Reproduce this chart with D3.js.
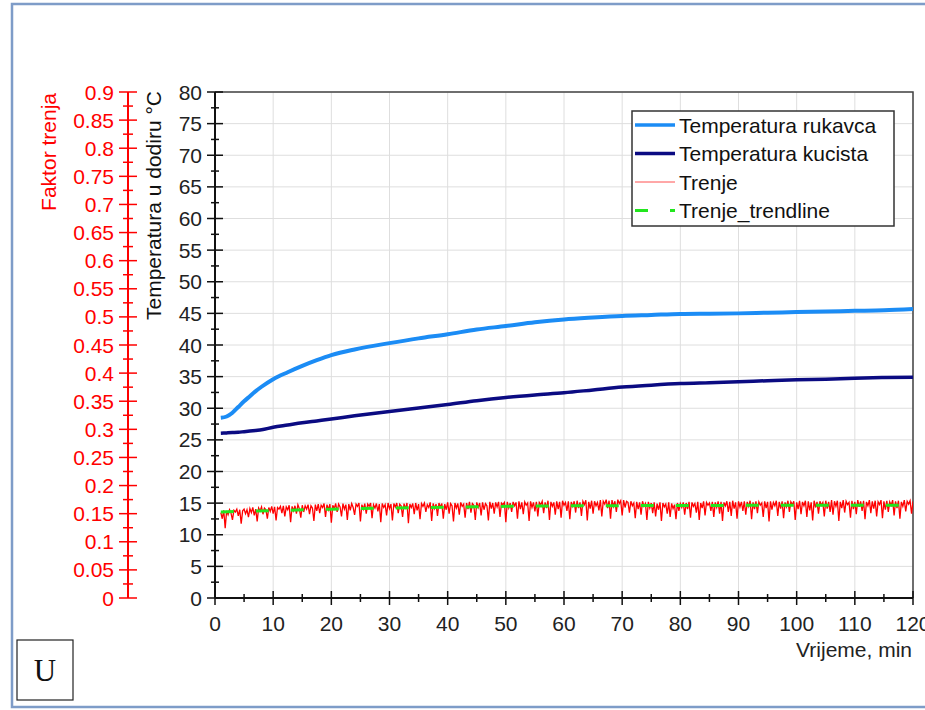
<!DOCTYPE html>
<html lang="hr">
<head>
<meta charset="utf-8">
<title>Temperatura i trenje</title>
<style>
  body { margin: 0; background: #fff; }
  svg text { font-family: "Liberation Sans", Arial, sans-serif; }
</style>
</head>
<body>
<svg id="chart" width="925" height="710"></svg>
<script src="https://d3js.org/d3.v7.min.js"></script>
<script>
// vremena za temperature (min)
var tempTime = [1, 2, 3, 4, 5, 6, 7, 8, 10, 12.5, 15, 17.5, 20, 24, 30, 35, 40, 45, 50, 55, 60, 65, 70, 75, 80, 85, 90, 95, 100, 105, 110, 115, 120];
// Temperatura rukavca (°C)
var tempRukavca = [28.5, 28.7, 29.3, 30.2, 31.1, 31.9, 32.7, 33.4, 34.6, 35.7, 36.7, 37.6, 38.4, 39.3, 40.3, 41.05, 41.7, 42.45, 43.0, 43.6, 44.05, 44.35, 44.6, 44.75, 44.9, 44.95, 45.0, 45.1, 45.2, 45.3, 45.4, 45.5, 45.7];
// Temperatura kucista (°C)
var tempKucista = [26.05, 26.1, 26.15, 26.2, 26.3, 26.4, 26.5, 26.6, 27.0, 27.35, 27.7, 28.0, 28.3, 28.8, 29.5, 30.05, 30.6, 31.2, 31.7, 32.1, 32.45, 32.9, 33.35, 33.65, 33.9, 34.05, 34.2, 34.35, 34.5, 34.6, 34.75, 34.85, 34.9];

// Trenje: faktor trenja, svakih 0.25 min od 1. minute
var trenjeStart = 1, trenjeStep = 0.25;
var trenje = [
  .152,.141,.156,.124,.155,.148,.157,.151,.139,.156,.153,.158,.146,.157,.132,.155,.158,.150,.157,.144,
  .159,.152,.161,.147,.158,.136,.160,.155,.162,.149,.160,.157,.141,.161,.154,.163,.150,.162,.138,.161,
  .158,.163,.151,.164,.145,.162,.157,.165,.135,.163,.155,.164,.150,.166,.159,.143,.165,.153,.164,.158,
  .166,.149,.164,.160,.137,.166,.155,.167,.151,.165,.161,.168,.144,.166,.157,.167,.134,.165,.159,.168,
  .153,.167,.162,.145,.168,.158,.166,.139,.167,.156,.168,.161,.148,.167,.163,.169,.136,.166,.158,.168,
  .150,.167,.163,.169,.142,.166,.160,.168,.154,.167,.135,.168,.161,.166,.147,.169,.159,.167,.138,.168,
  .162,.169,.151,.167,.164,.144,.168,.158,.169,.133,.167,.161,.168,.149,.169,.156,.167,.140,.168,.163,
  .169,.153,.166,.161,.170,.137,.168,.159,.167,.146,.169,.162,.168,.141,.167,.157,.170,.150,.168,.164,
  .136,.169,.160,.168,.148,.170,.163,.167,.143,.169,.158,.171,.152,.168,.165,.139,.170,.161,.169,.147,
  .170,.157,.168,.164,.138,.171,.159,.169,.150,.170,.162,.171,.144,.169,.166,.170,.135,.171,.160,.169,
  .153,.171,.164,.170,.141,.172,.158,.170,.149,.171,.165,.169,.137,.172,.161,.170,.154,.171,.145,.170,
  .166,.172,.151,.170,.160,.173,.139,.171,.163,.170,.148,.172,.158,.171,.143,.173,.165,.170,.155,.172,
  .140,.171,.163,.172,.152,.173,.160,.170,.146,.172,.166,.174,.138,.171,.159,.173,.150,.172,.164,.170,
  .156,.174,.145,.172,.167,.175,.160,.173,.141,.174,.163,.172,.153,.175,.168,.173,.147,.174,.161,.172,
  .170,.152,.172,.164,.169,.142,.171,.158,.170,.148,.172,.163,.168,.139,.171,.160,.169,.151,.170,.145,
  .168,.157,.170,.137,.169,.162,.167,.150,.170,.144,.168,.159,.166,.140,.169,.155,.168,.161,.170,.148,
  .169,.158,.171,.143,.170,.163,.168,.152,.171,.139,.169,.160,.172,.147,.170,.165,.169,.155,.171,.144,
  .170,.161,.172,.150,.171,.137,.170,.164,.172,.153,.171,.146,.173,.159,.170,.141,.172,.162,.171,.155,
  .172,.148,.171,.163,.173,.140,.170,.158,.172,.151,.171,.165,.169,.144,.172,.160,.171,.136,.172,.157,
  .170,.164,.173,.146,.171,.159,.172,.142,.170,.162,.173,.153,.171,.166,.172,.139,.170,.158,.173,.149,
  .171,.164,.173,.144,.172,.156,.170,.138,.173,.161,.171,.150,.172,.165,.170,.145,.173,.159,.171,.153,
  .174,.148,.172,.163,.173,.137,.171,.160,.174,.152,.172,.166,.170,.143,.173,.158,.171,.149,.174,.162,
  .172,.155,.173,.140,.171,.164,.174,.151,.172,.159,.173,.145,.171,.166,.174,.142,.172,.157,.173,.153,
  .171,.165,.174,.147,.172,.160,.173,.141,.171,.163,.174,.154,.172,.167,.173,.150,.172
];

// Trenje_trendline
var trendTime = [1, 10, 20, 30, 40, 50, 60, 80, 100, 120];
var trendValue = [0.153, 0.1555, 0.158, 0.160, 0.1615, 0.163, 0.164, 0.1645, 0.165, 0.165];

// oznake osi
var xTicks = d3.range(0, 121, 10);
var xMinor = d3.range(5, 120, 10);
var tTicks = d3.range(0, 81, 5);
var tMinor = d3.range(2.5, 80, 5);
var fTicks = [0, 0.05, 0.1, 0.15, 0.2, 0.25, 0.3, 0.35, 0.4, 0.45, 0.5, 0.55, 0.6, 0.65, 0.7, 0.75, 0.8, 0.85, 0.9];
var fMinor = d3.range(0.025, 0.9, 0.05);

var legendItems = [
  {name: 'Temperatura rukavca', color: '#1b8cf5', width: 3.5, dash: null},
  {name: 'Temperatura kucista', color: '#0b0b82', width: 3.5, dash: null},
  {name: 'Trenje', color: '#ff5050', width: 1, dash: null},
  {name: 'Trenje_trendline', color: '#22e61e', width: 3, dash: '13,22'}
];

var svg = d3.select('#chart');
var pLeft = 215, pRight = 913, pTop = 92, pBottom = 598;

var x = d3.scaleLinear().domain([0, 120]).range([pLeft, pRight]);
var yT = d3.scaleLinear().domain([0, 80]).range([pBottom, pTop]);
var yF = d3.scaleLinear().domain([0, 0.9]).range([pBottom, pTop]);

// vanjski okvir
svg.append('rect')
  .attr('x', 12).attr('y', 4).attr('width', 930).attr('height', 703)
  .attr('fill', 'none').attr('stroke', '#7e9cc8').attr('stroke-width', 2.5);

// mreza
svg.append('g').selectAll('line').data(tTicks.slice(1)).join('line')
  .attr('x1', pLeft).attr('x2', pRight)
  .attr('y1', d => yT(d)).attr('y2', d => yT(d))
  .attr('stroke', '#dedede').attr('stroke-width', 1);
svg.append('g').selectAll('line').data(xTicks.slice(1)).join('line')
  .attr('x1', d => x(d)).attr('x2', d => x(d))
  .attr('y1', pTop).attr('y2', pBottom)
  .attr('stroke', '#dedede').attr('stroke-width', 1);

// okvir grafa (gore i desno)
svg.append('path')
  .attr('d', 'M' + pLeft + ',' + pTop + 'H' + pRight + 'V' + pBottom)
  .attr('fill', 'none').attr('stroke', '#444').attr('stroke-width', 1.5);

// linije
svg.append('defs').append('clipPath').attr('id', 'clip')
  .append('rect').attr('x', pLeft).attr('y', pTop).attr('width', pRight - pLeft).attr('height', pBottom - pTop);

var plot = svg.append('g').attr('clip-path', 'url(#clip)');

var trenjeLine = d3.line()
  .x((d, i) => x(trenjeStart + i * trenjeStep))
  .y(d => yF(d));
plot.append('path').datum(trenje)
  .attr('d', trenjeLine)
  .attr('fill', 'none').attr('stroke', '#ff0000').attr('stroke-width', 1.3);

var trendLine = d3.line()
  .x((d, i) => x(trendTime[i]))
  .y(d => yF(d))
  .curve(d3.curveMonotoneX);
plot.append('path').datum(trendValue)
  .attr('d', trendLine)
  .attr('fill', 'none').attr('stroke', '#22e61e').attr('stroke-width', 3)
  .attr('stroke-dasharray', '13,22');

var tempLine = d3.line()
  .x((d, i) => x(tempTime[i]))
  .y(d => yT(d))
  .curve(d3.curveMonotoneX);
plot.append('path').datum(tempKucista)
  .attr('d', tempLine)
  .attr('fill', 'none').attr('stroke', '#0b0b82').attr('stroke-width', 3.5);
plot.append('path').datum(tempRukavca)
  .attr('d', tempLine)
  .attr('fill', 'none').attr('stroke', '#1b8cf5').attr('stroke-width', 4);

// os temperature
var axT = svg.append('g');
axT.append('line').attr('x1', pLeft).attr('x2', pLeft).attr('y1', pTop).attr('y2', pBottom)
  .attr('stroke', '#111').attr('stroke-width', 2);
axT.selectAll('.maj').data(tTicks).join('line').attr('class', 'maj')
  .attr('x1', pLeft - 8).attr('x2', pLeft + 8).attr('y1', d => yT(d)).attr('y2', d => yT(d))
  .attr('stroke', '#111').attr('stroke-width', 1.5);
axT.selectAll('.min').data(tMinor).join('line').attr('class', 'min')
  .attr('x1', pLeft - 4).attr('x2', pLeft + 4).attr('y1', d => yT(d)).attr('y2', d => yT(d))
  .attr('stroke', '#111').attr('stroke-width', 1.5);
axT.selectAll('text').data(tTicks).join('text')
  .attr('x', pLeft - 13).attr('y', d => yT(d)).attr('dy', '0.36em')
  .attr('text-anchor', 'end').attr('font-size', 21).attr('fill', '#222')
  .text(d => d);

// os trenja
var fx = 128;
var axF = svg.append('g');
axF.append('line').attr('x1', fx).attr('x2', fx).attr('y1', pTop).attr('y2', pBottom)
  .attr('stroke', '#ff0000').attr('stroke-width', 2);
axF.selectAll('.maj').data(fTicks).join('line').attr('class', 'maj')
  .attr('x1', fx - 9).attr('x2', fx + 9).attr('y1', d => yF(d)).attr('y2', d => yF(d))
  .attr('stroke', '#ff0000').attr('stroke-width', 1.5);
axF.selectAll('.min').data(fMinor).join('line').attr('class', 'min')
  .attr('x1', fx - 5).attr('x2', fx + 5).attr('y1', d => yF(d)).attr('y2', d => yF(d))
  .attr('stroke', '#ff0000').attr('stroke-width', 1.5);
axF.selectAll('text').data(fTicks).join('text')
  .attr('x', fx - 14).attr('y', d => yF(d)).attr('dy', '0.36em')
  .attr('text-anchor', 'end').attr('font-size', 21).attr('fill', '#ff0000')
  .text(d => d3.format('~g')(d));

// os vremena
var axX = svg.append('g');
axX.append('line').attr('x1', pLeft).attr('x2', pRight).attr('y1', pBottom).attr('y2', pBottom)
  .attr('stroke', '#111').attr('stroke-width', 2);
axX.selectAll('.maj').data(xTicks).join('line').attr('class', 'maj')
  .attr('x1', d => x(d)).attr('x2', d => x(d)).attr('y1', pBottom - 7).attr('y2', pBottom + 7)
  .attr('stroke', '#111').attr('stroke-width', 1.5);
axX.selectAll('.min').data(xMinor).join('line').attr('class', 'min')
  .attr('x1', d => x(d)).attr('x2', d => x(d)).attr('y1', pBottom - 4).attr('y2', pBottom + 4)
  .attr('stroke', '#111').attr('stroke-width', 1.5);
axX.selectAll('text').data(xTicks).join('text')
  .attr('x', d => x(d)).attr('y', pBottom + 33)
  .attr('text-anchor', 'middle').attr('font-size', 21).attr('fill', '#222')
  .text(d => d);

// naslovi osi
svg.append('text').attr('x', 912).attr('y', 657)
  .attr('text-anchor', 'end').attr('font-size', 21).attr('fill', '#222')
  .text('Vrijeme, min');
svg.append('text').attr('transform', 'translate(161,91) rotate(-90)')
  .attr('text-anchor', 'end').attr('font-size', 21).attr('fill', '#111')
  .text('Temperatura u dodiru °C');
svg.append('text').attr('transform', 'translate(56,93) rotate(-90)')
  .attr('text-anchor', 'end').attr('font-size', 21).attr('fill', '#ff0000')
  .text('Faktor trenja');

// legenda
var lg = svg.append('g').attr('transform', 'translate(632,111)');
lg.append('rect').attr('width', 262).attr('height', 115)
  .attr('fill', '#fff').attr('stroke', '#333').attr('stroke-width', 1.5);
var li = lg.selectAll('.item').data(legendItems).join('g').attr('class', 'item')
  .attr('transform', (d, i) => 'translate(0,' + (14 + i * 28.5) + ')');
li.append('line').attr('x1', 3).attr('x2', 43).attr('y1', 0).attr('y2', 0)
  .attr('stroke', d => d.color).attr('stroke-width', d => d.width)
  .attr('stroke-dasharray', d => d.dash);
li.append('text').attr('x', 47).attr('y', 0).attr('dy', '0.36em')
  .attr('font-size', 21).attr('fill', '#111').text(d => d.name);

// oznaka U
svg.append('rect').attr('x', 17).attr('y', 640).attr('width', 56).attr('height', 60)
  .attr('fill', 'none').attr('stroke', '#222').attr('stroke-width', 1.2);
svg.append('text').attr('x', 45).attr('y', 681)
  .attr('text-anchor', 'middle').attr('font-size', 31)
  .style('font-family', '"Liberation Serif", "Times New Roman", serif')
  .attr('fill', '#111').text('U');
</script>
</body>
</html>
